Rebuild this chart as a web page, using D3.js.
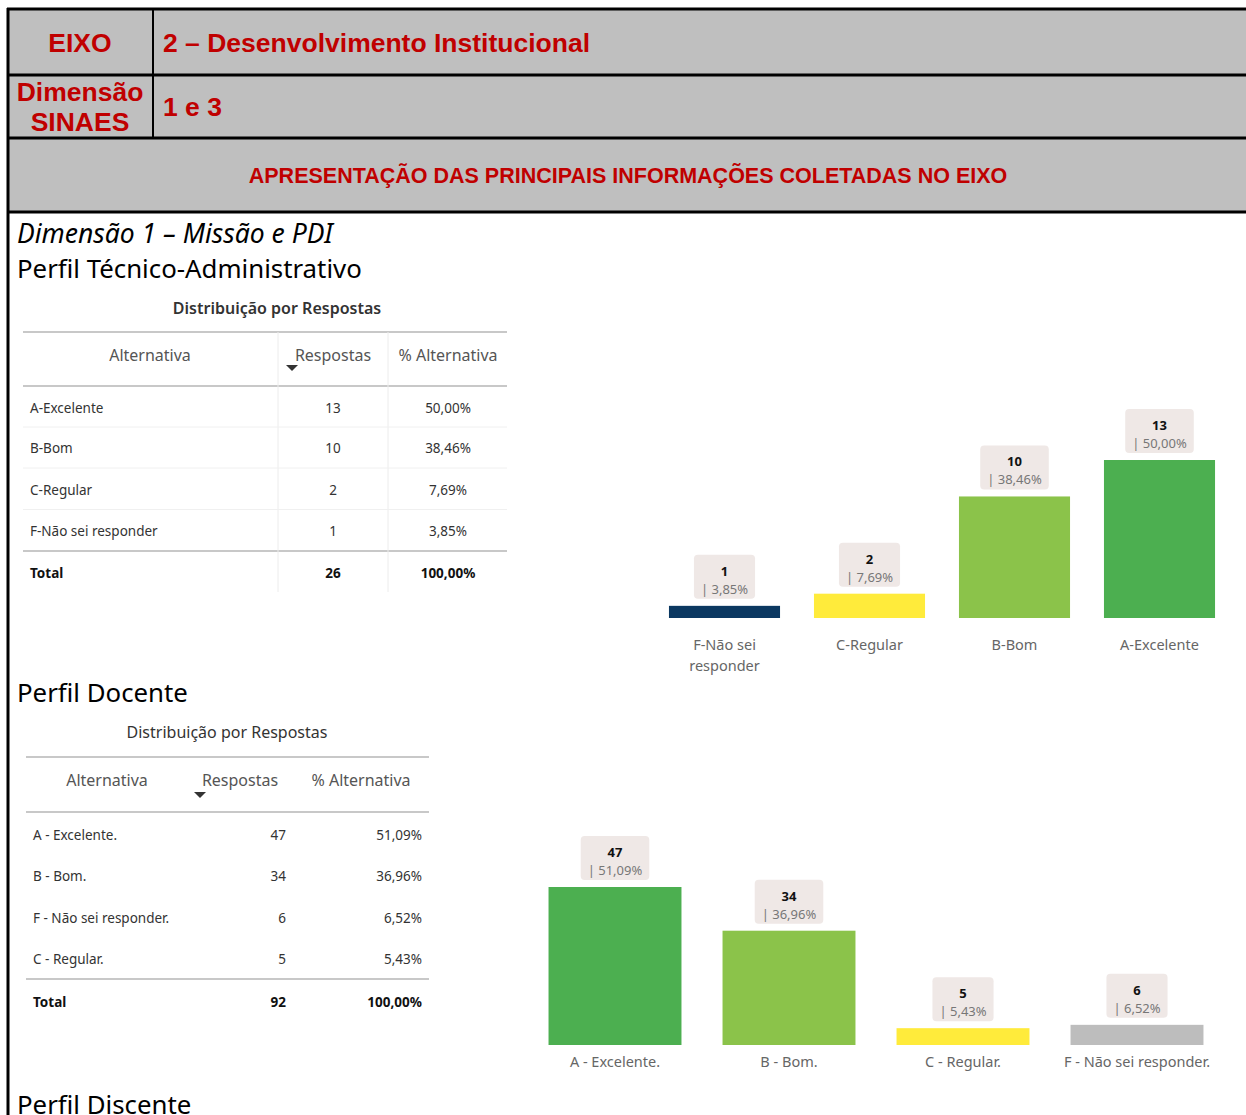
<!DOCTYPE html>
<html>
<head>
<meta charset="utf-8">
<script src="https://cdn.jsdelivr.net/npm/d3@7"></script>
<style>
  body { margin: 0; background: #fff; }
  svg { display: block; }
</style>
</head>
<body>
<svg id="page" width="1246" height="1115"></svg>
<script>
// ---- data ----
var taTableCats = ['A-Excelente', 'B-Bom', 'C-Regular', 'F-Não sei responder']
var taTableVals = [13, 10, 2, 1]
var taTablePcts = ['50,00%', '38,46%', '7,69%', '3,85%']
var taTotal = [26, '100,00%']

var taChartCats = ['F-Não sei responder', 'C-Regular', 'B-Bom', 'A-Excelente']
var taChartVals = [1, 2, 10, 13]
var taChartPcts = ['3,85%', '7,69%', '38,46%', '50,00%']
var taChartColors = ['#0b3861', '#ffeb3b', '#8bc34a', '#4caf50']

var docTableCats = ['A - Excelente.', 'B - Bom.', 'F - Não sei responder.', 'C - Regular.']
var docTableVals = [47, 34, 6, 5]
var docTablePcts = ['51,09%', '36,96%', '6,52%', '5,43%']
var docTotal = [92, '100,00%']

var docChartCats = ['A - Excelente.', 'B - Bom.', 'C - Regular.', 'F - Não sei responder.']
var docChartVals = [47, 34, 5, 6]
var docChartPcts = ['51,09%', '36,96%', '5,43%', '6,52%']
var docChartColors = ['#4caf50', '#8bc34a', '#ffeb3b', '#bdbdbd']

var svg = d3.select('#page')
var red = '#c00000'
var sans = 'Liberation Sans, Arial, sans-serif'
var ui = 'Noto Sans, Open Sans, sans-serif'

/*
    header table
*/
var head = svg.append('g')
head.append('rect').attr('x', 8).attr('y', 9).attr('width', 1240).attr('height', 203).attr('fill', '#bfbfbf')
function hline (y, x1) {
  head.append('line').attr('x1', x1 || 7).attr('x2', 1246).attr('y1', y).attr('y2', y)
    .attr('stroke', '#000').attr('stroke-width', 3)
}
hline(9); hline(75); hline(138); hline(212)
head.append('line').attr('x1', 153).attr('x2', 153).attr('y1', 9).attr('y2', 138)
  .attr('stroke', '#000').attr('stroke-width', 2)
// left border runs down the page
svg.append('line').attr('x1', 8).attr('x2', 8).attr('y1', 8).attr('y2', 1115)
  .attr('stroke', '#000').attr('stroke-width', 3)

function htext (x, y, txt, size, anchor) {
  head.append('text').attr('x', x).attr('y', y).text(txt)
    .attr('font-family', sans).attr('font-weight', 'bold').attr('font-size', size)
    .attr('fill', red).attr('text-anchor', anchor || 'start').attr('dominant-baseline', 'central')
}
htext(80, 43, 'EIXO', 26.5, 'middle')
htext(163, 43, '2 – Desenvolvimento Institucional', 26.5)
htext(80, 92, 'Dimensão', 26.5, 'middle')
htext(80, 122, 'SINAES', 26.5, 'middle')
htext(163, 107, '1 e 3', 26.5)
htext(628, 176, 'APRESENTAÇÃO DAS PRINCIPAIS INFORMAÇÕES COLETADAS NO EIXO', 21.5, 'middle')

/*
    section headings
*/
function heading (y, txt, italic) {
  svg.append('text').attr('x', 17).attr('y', y).text(txt)
    .attr('font-family', ui).attr('font-size', italic ? 26.5 : 25.8)
    .attr('font-style', italic ? 'italic' : 'normal')
    .attr('fill', '#000').attr('dominant-baseline', 'central')
}
heading(233, 'Dimensão 1 – Missão e PDI', true)
heading(268, 'Perfil Técnico-Administrativo')
heading(692, 'Perfil Docente')
heading(1104, 'Perfil Discente')

/*
    tables
*/
function drawTable (cfg) {
  var g = svg.append('g')
  var x0 = cfg.x0, x1 = cfg.x1
  g.append('text').attr('x', cfg.titleX).attr('y', cfg.titleY).text('Distribuição por Respostas')
    .attr('font-family', ui).attr('font-size', 16).attr('font-weight', cfg.titleWeight)
    .attr('fill', '#333').attr('text-anchor', 'middle').attr('dominant-baseline', 'central')

  function line (y, col, w) {
    g.append('line').attr('x1', x0).attr('x2', x1).attr('y1', y).attr('y2', y)
      .attr('stroke', col).attr('stroke-width', w)
  }
  line(cfg.top, '#c8c8c8', 2)
  line(cfg.headBottom, '#c8c8c8', 2)
  line(cfg.totalLine, '#c8c8c8', 2)
  if (cfg.colLines) {
    cfg.colLines.forEach(function (cx) {
      g.append('line').attr('x1', cx).attr('x2', cx).attr('y1', cfg.top).attr('y2', cfg.bottom)
        .attr('stroke', '#ececec').attr('stroke-width', 1)
    })
  }
  if (cfg.rowSeps) {
    cfg.rowYs.slice(0, -1).forEach(function (ry, i) {
      var sy = (ry + cfg.rowYs[i + 1]) / 2 - 1
      line(sy, '#f0f0f0', 1)
    })
  }
  // header
  var hdr = ['Alternativa', 'Respostas', '% Alternativa']
  hdr.forEach(function (h, i) {
    g.append('text').attr('x', cfg.headX[i]).attr('y', cfg.headY).text(h)
      .attr('font-family', ui).attr('font-size', 16).attr('fill', '#555')
      .attr('text-anchor', 'middle').attr('dominant-baseline', 'central')
  })
  // sort arrow
  var ax = cfg.arrowX, ay = cfg.arrowY
  g.append('path').attr('d', 'M' + (ax - 6) + ',' + (ay - 3) + 'L' + (ax + 6) + ',' + (ay - 3) + 'L' + ax + ',' + (ay + 3) + 'Z')
    .attr('fill', '#333')

  // rows
  var rows = cfg.cats.map(function (c, i) { return [c, cfg.vals[i], cfg.pcts[i]] })
  rows.push(['Total', cfg.total[0], cfg.total[1]])
  var ys = cfg.rowYs.concat([cfg.totalY])
  rows.forEach(function (r, i) {
    var bold = i === rows.length - 1
    r.forEach(function (cell, j) {
      g.append('text').attr('x', cfg.cellX[j]).attr('y', ys[i]).text(cell)
        .attr('font-family', ui).attr('font-size', 13.5)
        .attr('font-weight', bold ? 'bold' : 'normal')
        .attr('fill', bold ? '#111' : '#333')
        .attr('text-anchor', cfg.cellAnchor[j]).attr('dominant-baseline', 'central')
    })
  })
}

drawTable({
  x0: 23, x1: 507, titleX: 277, titleY: 308, titleWeight: 600,
  top: 332, headBottom: 386, totalLine: 551, bottom: 592,
  colLines: [278, 388], rowSeps: true,
  headX: [150, 333, 448], headY: 355, arrowX: 292, arrowY: 368,
  cats: taTableCats, vals: taTableVals, pcts: taTablePcts, total: taTotal,
  rowYs: [408, 448, 490, 531], totalY: 573,
  cellX: [30, 333, 448], cellAnchor: ['start', 'middle', 'middle']
})

drawTable({
  x0: 26, x1: 429, titleX: 227, titleY: 732, titleWeight: 'normal',
  top: 757, headBottom: 812, totalLine: 979, bottom: 1020,
  colLines: null, rowSeps: false,
  headX: [107, 240, 361], headY: 780, arrowX: 200, arrowY: 795,
  cats: docTableCats, vals: docTableVals, pcts: docTablePcts, total: docTotal,
  rowYs: [835, 876, 918, 959], totalY: 1002,
  cellX: [33, 286, 422], cellAnchor: ['start', 'end', 'end']
})

/*
    bar charts
*/
function drawBars (cfg) {
  var g = svg.append('g')
  var data = cfg.cats.map(function (c, i) {
    return {cat: c, value: cfg.vals[i], pct: cfg.pcts[i], color: cfg.colors[i]}
  })
  var mapx = d3.scaleBand().domain(cfg.cats).range(cfg.xr)
    .paddingInner(cfg.pad).paddingOuter(cfg.pad / 2)
  var mapy = d3.scaleLinear().domain([0, cfg.max]).range([cfg.base, cfg.top])

  g.selectAll('rect.bar').data(data).enter().append('rect')
    .classed('bar', true)
    .attr('x', d => mapx(d.cat))
    .attr('width', mapx.bandwidth())
    .attr('y', d => mapy(d.value))
    .attr('height', d => mapy(0) - mapy(d.value))
    .attr('fill', d => d.color)

  // value label boxes
  var lab = g.selectAll('g.lab').data(data).enter().append('g').classed('lab', true)
  lab.each(function (d) {
    var el = d3.select(this)
    var cx = mapx(d.cat) + mapx.bandwidth() / 2
    var bottom = mapy(d.value) - 7
    var topY = bottom - 44
    var rect = el.append('rect').attr('y', topY).attr('height', 44).attr('rx', 4)
      .attr('fill', '#efe8e6')
    el.append('text').attr('x', cx).attr('y', topY + 16).text(d.value)
      .attr('font-family', ui).attr('font-size', 13).attr('font-weight', 'bold')
      .attr('fill', '#111').attr('text-anchor', 'middle').attr('dominant-baseline', 'central')
    var t = el.append('text').attr('x', cx).attr('y', topY + 34).text('| ' + d.pct)
      .attr('font-family', ui).attr('font-size', 13).attr('fill', '#777')
      .attr('text-anchor', 'middle').attr('dominant-baseline', 'central')
    var w = t.node().getComputedTextLength() + 14
    rect.attr('x', cx - w / 2).attr('width', w)
  })

  // category axis
  var axis = d3.axisBottom(mapx).tickSize(0).tickPadding(0)
  var ax = g.append('g').attr('transform', 'translate(0,' + cfg.base + ')').call(axis)
  ax.select('.domain').remove()
  ax.selectAll('text')
    .attr('font-family', ui).attr('font-size', 14.5).attr('fill', '#666')
    .attr('dy', null).attr('y', cfg.labelDy)
    .each(function (d) {
      var el = d3.select(this)
      if (this.getComputedTextLength() > cfg.wrap) {
        var words = d.split(' ')
        var l1 = words.slice(0, 2).join(' ')
        var l2 = words.slice(2).join(' ')
        el.text(null)
        el.append('tspan').attr('x', 0).attr('y', cfg.labelDy).text(l1)
        el.append('tspan').attr('x', 0).attr('y', cfg.labelDy + 21).text(l2)
      }
    })
  ax.selectAll('text').attr('dominant-baseline', 'central')
}

drawBars({
  cats: taChartCats, vals: taChartVals, pcts: taChartPcts, colors: taChartColors,
  xr: [652, 1232], pad: 0.234, max: 13, base: 618, top: 460, labelDy: 26, wrap: 115
})

drawBars({
  cats: docChartCats, vals: docChartVals, pcts: docChartPcts, colors: docChartColors,
  xr: [528, 1224], pad: 0.236, max: 47, base: 1045, top: 887, labelDy: 16, wrap: 200
})
</script>
</body>
</html>
